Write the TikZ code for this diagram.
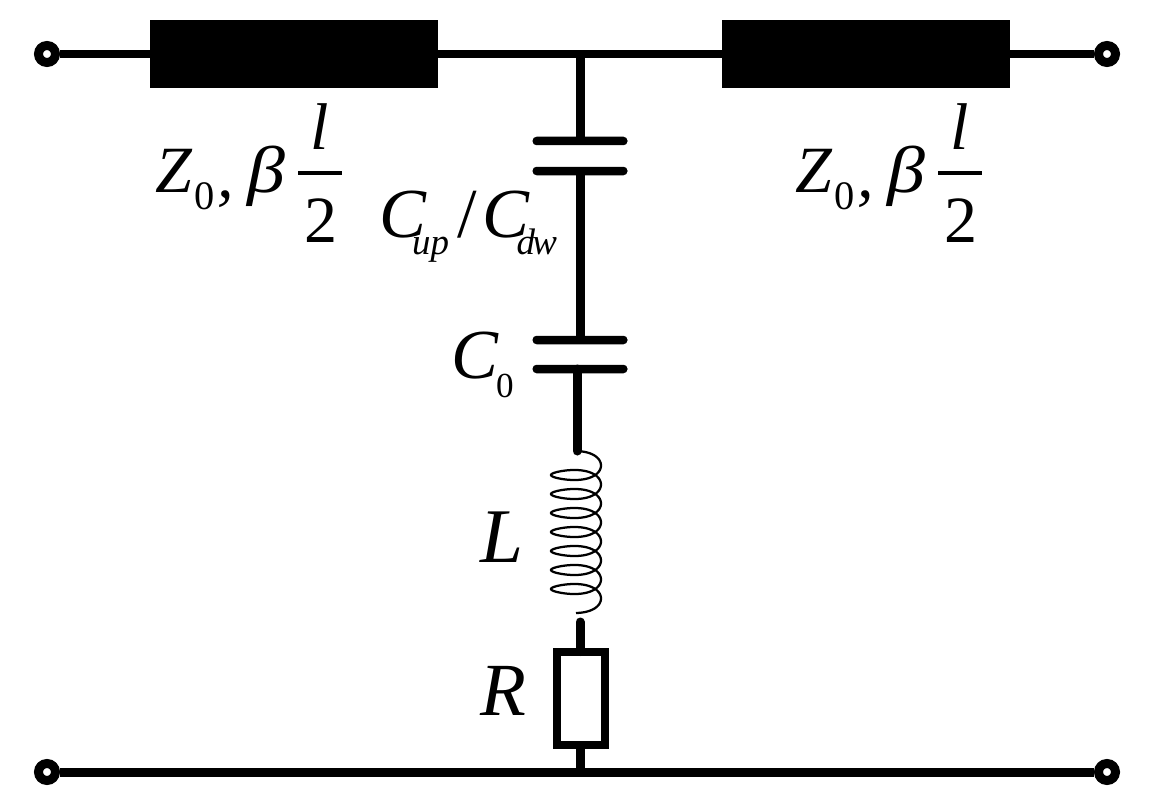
\documentclass[tikz,border=0pt]{standalone}
\usepackage{fontspec}
\setmainfont{Liberation Serif}
\usetikzlibrary{calc}
\newcommand{\lblsize}[1]{\fontsize{#1}{#1}\selectfont}
\newcommand{\lowered}[3]{\raisebox{-#1pt}{\lblsize{#2}#3}}
\tikzset{
	wire/.style={line width=1.6mm, line cap=butt},
	leg/.style={line width=1.8mm, line cap=round},
	terminal/.style={circle, draw, line width=1.8mm, minimum size=3.4mm, inner sep=0},
	tline/.style={fill=black, minimum width=57.6mm, minimum height=13.6mm, inner sep=0, outer sep=0},
	plate/.style={fill=black, rounded corners=0.8mm, minimum width=19mm, minimum height=1.7mm, inner sep=0, outer sep=0},
	resistor/.style={draw, line width=1.6mm, minimum width=9.6mm, minimum height=18.6mm, inner sep=0, outer sep=0},
	lbl/.style={anchor=base west, inner sep=0, outer sep=0},
}

\begin{document}
\begin{tikzpicture}[x=0.2mm, y=-0.2mm]
		%%%%% START %%%%%
		
		\useasboundingbox (0, 0) rectangle (1153, 808);
		
		\node[terminal] (portA) at (47, 54) {};
		\node[terminal] (portB) at (1107, 54) {};
		\node[terminal] (portC) at (47, 772) {};
		\node[terminal] (portD) at (1107, 772) {};
		
		\node[tline] (lineL) at (294, 54) {};
		\node[tline] (lineR) at (866, 54) {};
		\coordinate (tee) at (580, 54);
		
		\node[plate] (capAtop) at (580, 141) {};
		\node[plate] (capAbot) at (580, 171) {};
		\node[plate] (capBtop) at (580, 340) {};
		\node[plate] (capBbot) at (580, 369) {};
		
		\coordinate (coilIn) at (577, 451);
		\coordinate (coilOut) at (580, 622);
		\node[resistor] (res) at (581, 698) {};
		\coordinate (rail) at (580, 772);
		
		\draw[wire] (portA) -- (lineL);
		\draw[wire] (lineL) -- (lineR);
		\draw[wire] (lineR) -- (portB);
		\draw[leg, line cap=butt] (portC) -- (portD);
		
		\draw[leg, line cap=butt] (tee) -- (capAtop);
		\draw[leg, line cap=butt] (capAbot) -- (capBtop);
		\draw[leg] (coilIn |- capBbot) -- (coilIn);
		\draw[leg] (coilOut) -- (res.north -| coilOut);
		\draw[leg, line cap=butt] (res.south -| rail) -- (rail);
		
		% coil
		\draw[line width=0.45mm] plot[domain=-90:2610, samples=400] ({576+25*cos(\x)}, {475+(\x-180)/360*19+9.75*sin(\x)*(1+0.25*cos(\x))});
		
		% labels
		\foreach \dx/\nm in {0/L, 640/R} {
			\node[lbl] (zbeta\nm) at (155+\dx, 192) {\lblsize{37.6}\itshape Z\kern1.5pt\lowered{10}{23}{\upshape 0}\kern1.5pt\raisebox{-3pt}{,}\kern8pt\scalebox{1.15}[1]{β}};
			\node[lbl] (len\nm) at (310+\dx, 150) {\lblsize{37.6}\itshape l};
			\node[lbl] (two\nm) at (304+\dx, 242) {\lblsize{37.6}2};
			\draw[line width=0.7mm] (298+\dx, 173) -- (342+\dx, 173);
		}
		\node[lbl] (capAlbl) at (379, 237) {\lblsize{40}\itshape C\kern-7.8pt\lowered{10}{21}{up}\kern5pt\upshape/\kern3pt\itshape C\kern-7.4pt\lowered{10}{21}{d\kern-1.5pt w}};
		\node[lbl] (capBlbl) at (451, 378) {\lblsize{40}\itshape C\kern-1pt\lowered{11}{20}{\upshape 0}};
		\node[lbl] (coilLbl) at (480, 562) {\lblsize{44}\itshape L};
		\node[lbl] (resLbl) at (480, 715) {\lblsize{42.7}\itshape R};
		
		%%%%% END %%%%%
	\end{tikzpicture}
\end{document}
